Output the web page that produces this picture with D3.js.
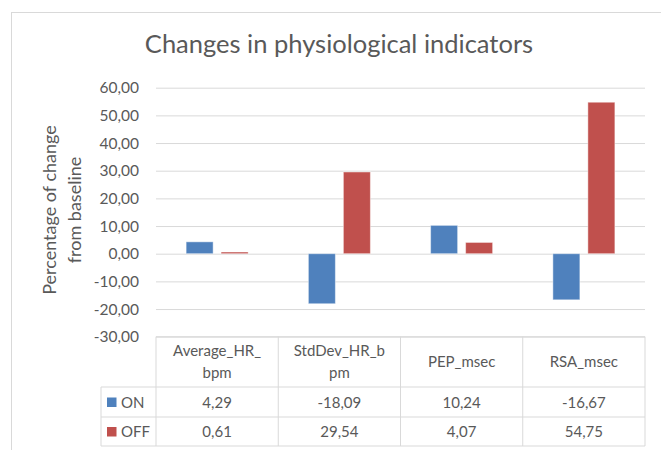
<!DOCTYPE html>
<html>
<head>
<meta charset="utf-8">
<script src="https://cdn.jsdelivr.net/npm/d3@7"></script>
<style>
  html, body { margin:0; padding:0; background:#ffffff; }
  svg text { font-family: Lato, "Open Sans", sans-serif; fill:#595959; }
</style>
</head>
<body>
<svg id="chart" width="661" height="450"></svg>
<script>
const categories  = ["Average_HR_bpm", "StdDev_HR_bpm", "PEP_msec", "RSA_msec"];
const seriesNames = ["ON", "OFF"];
const valuesOn    = [4.29, -18.09, 10.24, -16.67];
const valuesOff   = [0.61, 29.54, 4.07, 54.75];
const yTicks      = [-30, -20, -10, 0, 10, 20, 30, 40, 50, 60];
const seriesColor = ["#4f81bd", "#c0504d"];

const titleTxt = "Changes in physiological indicators";
const yTitle   = ["Percentage of change", "from baseline"];

// plot box (table sits right under it)
const plotL = 156, plotR = 645, plotT = 87.7, plotB = 336.7;
const legL  = 101;
const rowY  = [plotB, 387, 417, 446]; // header / ON / OFF row edges

// comma decimals, plain hyphen for negatives
const locale = d3.formatLocale({ decimal: ",", thousands: ".", grouping: [3], currency: ["", ""], minus: "-" });
const fmt = locale.format(".2f");

const svg = d3.select("#chart");

// chart area border (open to the right / bottom like the crop)
svg.append("rect")
    .attr("x", 11.5).attr("y", 12.5)
    .attr("width", 700).attr("height", 500)
    .attr("fill", "none")
    .attr("stroke", "#d9d9d9")
    .attr("stroke-width", 1);

// title
svg.append("text")
    .attr("x", 339).attr("y", 53)
    .attr("text-anchor", "middle")
    .style("font-size", "25.5px")
    .text(titleTxt);

const y = d3.scaleLinear().domain([-30, 60]).range([plotB, plotT]);

const x = d3.scaleBand()
    .domain(categories)
    .range([plotL, plotR])
    .padding(0);

const catW = x.bandwidth();
const xs = d3.scaleBand()
    .domain(seriesNames)
    .range([catW / 2 - 31, catW / 2 + 31])
    .paddingInner(8 / 35);

// gridlines
const grid = svg.append("g")
    .attr("transform", "translate(" + plotL + ",0)")
    .call(d3.axisLeft(y).tickValues(yTicks).tickSize(-(plotR - plotL)).tickFormat(""));
grid.select(".domain").remove();
grid.selectAll("line").attr("stroke", "#d9d9d9").attr("stroke-width", 1);

// y labels
const yAx = svg.append("g")
    .attr("transform", "translate(139,0)")
    .call(d3.axisLeft(y).tickValues(yTicks).tickSize(0).tickPadding(0).tickFormat(fmt));
yAx.select(".domain").remove();
yAx.selectAll("text")
    .style("font-size", "15.5px")
    .attr("fill", "#595959");

// y axis title
const yt = svg.append("text")
    .attr("transform", "translate(0,210) rotate(-90)")
    .attr("text-anchor", "middle")
    .style("font-size", "18px");
yt.selectAll("tspan")
    .data(yTitle)
    .enter()
    .append("tspan")
        .attr("x", 0)
        .attr("y", (d, i) => 56 + i * 25)
        .text(d => d);

// bars
const seriesData = [valuesOn, valuesOff];
const barGrp = svg.append("g");
seriesData.forEach((vals, si) => {
    barGrp.selectAll(".bar" + si)
        .data(vals)
        .enter()
        .append("rect")
            .attr("class", "bar" + si)
            .attr("x", (d, i) => x(categories[i]) + xs(seriesNames[si]))
            .attr("width", xs.bandwidth())
            .attr("y", d => Math.min(y(d), y(0)))
            .attr("height", d => Math.abs(y(d) - y(0)))
            .attr("fill", seriesColor[si])
            .attr("stroke", "rgba(255,255,255,0.45)")
            .attr("stroke-width", 1);
});

// data table
const tbl = svg.append("g").attr("stroke", "#d9d9d9").attr("stroke-width", 1);
// horizontal lines
rowY.forEach((ry, i) => {
    tbl.append("line")
        .attr("x1", i === 0 ? plotL : legL).attr("x2", plotR)
        .attr("y1", ry).attr("y2", ry);
});
// vertical lines
const colEdges = categories.map(c => x(c)).concat([plotR]);
colEdges.forEach(cx => {
    tbl.append("line")
        .attr("x1", cx).attr("x2", cx)
        .attr("y1", rowY[0]).attr("y2", rowY[3]);
});
tbl.append("line")
    .attr("x1", legL).attr("x2", legL)
    .attr("y1", rowY[1]).attr("y2", rowY[3]);

// header labels, wrapped like excel does
function wrapName(s){
    if (s.length > 12) return [s.slice(0, 11), s.slice(11)];
    return [s];
}
const hdr = svg.append("g");
categories.forEach(c => {
    const lines = wrapName(c);
    const cy = (rowY[0] + rowY[1]) / 2;
    const t = hdr.append("text")
        .attr("text-anchor", "middle")
        .style("font-size", "15px");
    lines.forEach((ln, li) => {
        t.append("tspan")
            .attr("x", x(c) + catW / 2)
            .attr("y", cy + 5 + (li - (lines.length - 1) / 2) * 21.5)
            .text(ln);
    });
});

// value rows + legend keys
seriesData.forEach((vals, si) => {
    const cy = (rowY[si + 1] + rowY[si + 2]) / 2;
    svg.append("rect")
        .attr("x", 107).attr("y", cy - 4.5)
        .attr("width", 9.5).attr("height", 9.5)
        .attr("fill", seriesColor[si]);
    svg.append("text")
        .attr("x", 121).attr("y", cy + 5.5)
        .style("font-size", "15px")
        .text(seriesNames[si]);
    svg.selectAll(".val" + si)
        .data(vals)
        .enter()
        .append("text")
            .attr("class", "val" + si)
            .attr("x", (d, i) => x(categories[i]) + catW / 2)
            .attr("y", cy + 5.5)
            .attr("text-anchor", "middle")
            .style("font-size", "15px")
            .text(d => fmt(d));
});
</script>
</body>
</html>
